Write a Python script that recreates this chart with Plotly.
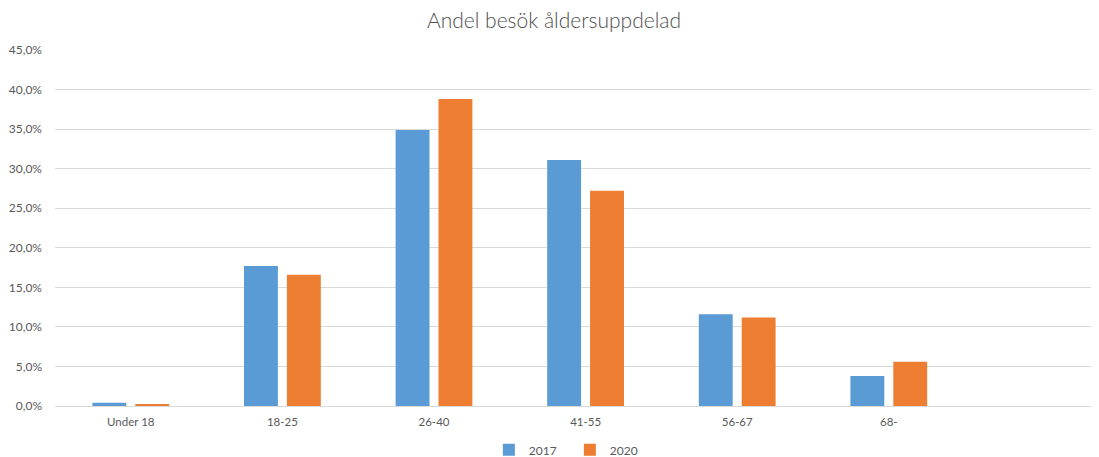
import plotly.graph_objects as go

categories = ["Under 18", "18-25", "26-40", "41-55", "56-67", "68-"]
series_2017 = [0.004, 0.177, 0.349, 0.311, 0.116, 0.038]
series_2020 = [0.0015, 0.166, 0.388, 0.272, 0.112, 0.056]
tick_vals = [0, 0.05, 0.10, 0.15, 0.20, 0.25, 0.30, 0.35, 0.40, 0.45]
tick_text = ["0,0%", "5,0%", "10,0%", "15,0%", "20,0%", "25,0%", "30,0%", "35,0%", "40,0%", "45,0%"]

FONT = "Lato, Calibri, sans-serif"
TXT = "#595959"

fig = go.Figure()
fig.add_trace(go.Bar(name="2017", x=categories, y=series_2017,
                     marker=dict(color="#5B9BD5", line=dict(width=0))))
fig.add_trace(go.Bar(name="2020", x=categories, y=series_2020,
                     marker=dict(color="#ED7D31", line=dict(width=0))))

# page body has an 8px default margin: figure is sized to the visible area
fig.update_layout(
    width=1091, height=449,
    margin=dict(l=47, r=1, t=42, b=51, autoexpand=False),
    paper_bgcolor="white", plot_bgcolor="white",
    barmode="group", bargap=0.434, bargroupgap=0.21,
    title=dict(text="Andel besök åldersuppdelad", x=0.5005, xanchor="center",
               xref="container", yref="container",
               y=0.972, yanchor="middle",
               font=dict(family=FONT, size=21, color="#505050", weight=300)),
    font=dict(family=FONT, size=11, color=TXT),
    showlegend=True,
    legend=dict(orientation="h", x=0.515, xanchor="center",
                xref="container", yref="container",
                y=0.016, yanchor="middle",
                font=dict(family=FONT, size=12, color=TXT),
                itemwidth=30, entrywidth=36, entrywidthmode="pixels",
                traceorder="normal"),
    xaxis=dict(type="category", range=[-0.5, 6.38], showgrid=False,
               automargin=False,
               showline=True, linecolor="#D9D9D9", linewidth=1,
               ticks="", ticklabelstandoff=5,
               tickfont=dict(family=FONT, size=11.5, color=TXT)),
    yaxis=dict(range=[0, 0.45], tickvals=tick_vals, ticktext=tick_text,
               automargin=False,
               showgrid=True, gridcolor="#D9D9D9", gridwidth=1,
               zeroline=False, showline=False, ticks="",
               ticklabelstandoff=12,
               tickfont=dict(family=FONT, size=12, color=TXT)),
)

fig.write_html("out.html")
